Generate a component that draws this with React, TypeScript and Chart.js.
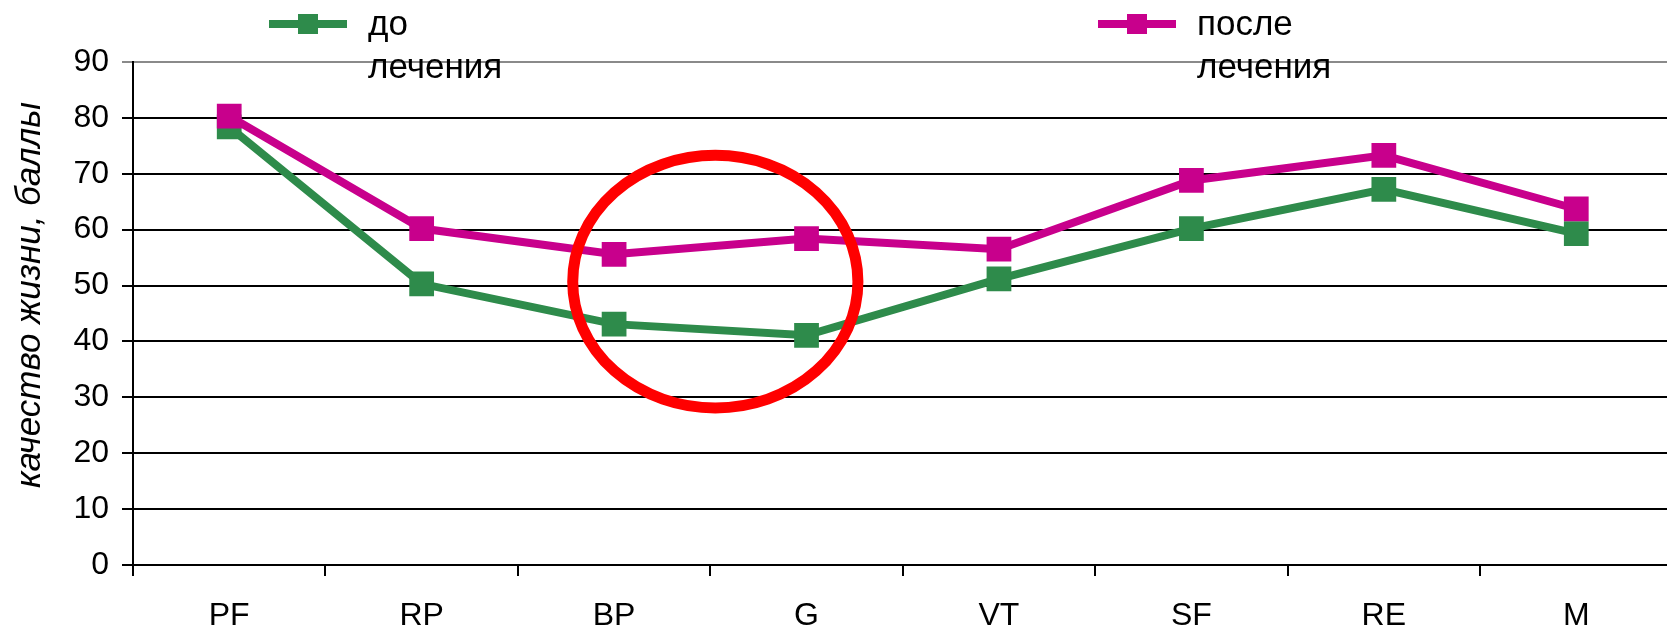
import React, { useEffect, useRef } from "react";
import { Chart, registerables } from "chart.js";

Chart.register(...registerables);

const categories = ["PF", "RP", "BP", "G", "VT", "SF", "RE", "M"];
const beforeValues = [78.4, 50.3, 43.1, 41.1, 51.2, 60.2, 67.2, 59.3];
const afterValues = [80.3, 60.2, 55.6, 58.4, 56.5, 68.8, 73.3, 63.7];
const beforeLabel = ["до", "лечения"];
const afterLabel = ["после", "лечения"];
const yTitle = "качество жизни, баллы";
const yMin = 0;
const yMax = 90;
const yStep = 10;

const GREEN = "#2E8B4B";
const MAGENTA = "#C8008C";
const RED = "#FF0000";
const FONT = "'Liberation Sans', Arial, sans-serif";

const overlayPlugin = {
  id: "overlay",
  afterDatasetsDraw(chart: any) {
    const { ctx, scales } = chart;
    const xs = scales.x;
    const ys = scales.y;
    // highlight ellipse around BP..G
    const step = xs.getPixelForValue(1) - xs.getPixelForValue(0);
    const cx = xs.getPixelForValue(2) + step * 0.526;
    const cy = ys.getPixelForValue(50.7);
    const rx = step * 0.741;
    const ry = Math.abs(ys.getPixelForValue(0) - ys.getPixelForValue(22.6));
    ctx.save();
    ctx.strokeStyle = RED;
    ctx.lineWidth = 11;
    ctx.beginPath();
    ctx.ellipse(cx, cy, rx, ry, 0, 0, Math.PI * 2);
    ctx.stroke();
    ctx.restore();
  },
  afterDraw(chart: any) {
    const { ctx } = chart;
    ctx.save();
    // y title
    ctx.fillStyle = "#000";
    ctx.font = `italic 35px ${FONT}`;
    ctx.textAlign = "center";
    ctx.textBaseline = "middle";
    ctx.translate(30, 295);
    ctx.rotate(-Math.PI / 2);
    ctx.fillText(yTitle, 0, 0);
    ctx.restore();

    // legend
    const items = [
      { cx: 308, color: GREEN, lines: beforeLabel },
      { cx: 1137, color: MAGENTA, lines: afterLabel },
    ];
    ctx.save();
    for (const it of items) {
      const y = 24;
      ctx.strokeStyle = it.color;
      ctx.lineWidth = 8;
      ctx.beginPath();
      ctx.moveTo(it.cx - 39, y);
      ctx.lineTo(it.cx + 39, y);
      ctx.stroke();
      ctx.fillStyle = it.color;
      ctx.fillRect(it.cx - 10, y - 10, 20, 20);
      ctx.fillStyle = "#000";
      ctx.font = `35px ${FONT}`;
      ctx.textAlign = "left";
      ctx.textBaseline = "middle";
      it.lines.forEach((t, i) => ctx.fillText(t, it.cx + 60, y + 1 + i * 43));
    }
    ctx.restore();
  },
};

export default function App() {
  const ref = useRef<HTMLCanvasElement | null>(null);
  useEffect(() => {
    if (!ref.current) return;
    const chart = new Chart(ref.current, {
      type: "line",
      data: {
        labels: categories,
        datasets: [
          {
            label: afterLabel.join(" "),
            data: afterValues,
            borderColor: MAGENTA,
            backgroundColor: MAGENTA,
            borderWidth: 8,
            pointStyle: "rect",
            pointRadius: 17.5,
            pointBorderWidth: 0,
            pointBackgroundColor: MAGENTA,
            tension: 0,
            order: 0,
          },
          {
            label: beforeLabel.join(" "),
            data: beforeValues,
            borderColor: GREEN,
            backgroundColor: GREEN,
            borderWidth: 8,
            pointStyle: "rect",
            pointRadius: 17.5,
            pointBorderWidth: 0,
            pointBackgroundColor: GREEN,
            tension: 0,
            order: 1,
          },
        ],
      },
      options: {
        responsive: false,
        animation: false,
        devicePixelRatio: 1,
        layout: { padding: { top: 62, right: 14, left: 0, bottom: 0 } },
        plugins: {
          legend: { display: false },
          tooltip: { enabled: false },
        },
        scales: {
          x: {
            offset: true,
            grid: {
              offset: true,
              drawOnChartArea: false,
              drawTicks: true,
              tickLength: 11,
              color: "#000",
              lineWidth: 2,
            },
            border: { display: true, color: "#000", width: 2 },
            ticks: {
              color: "#000",
              font: { family: FONT, size: 32 },
              padding: 21,
              maxRotation: 0,
              autoSkip: false,
            },
            afterFit(scale: any) {
              scale.height = 63;
            },
          },
          y: {
            min: yMin,
            max: yMax,
            grid: {
              color: (c: any) => (c.tick && c.tick.value === yMax ? "#8a8a8a" : "#000"),
              lineWidth: 2,
              drawTicks: true,
              tickLength: 11,
            },
            border: { display: true, color: "#000", width: 2 },
            ticks: {
              stepSize: yStep,
              color: "#000",
              font: { family: FONT, size: 32 },
              padding: 13,
            },
            afterFit(scale: any) {
              scale.width = 133;
            },
          },
        },
      },
      plugins: [overlayPlugin],
    });
    return () => chart.destroy();
  }, []);
  return (
    <div
      style={{
        position: "fixed",
        left: 0,
        top: 0,
        width: 1667,
        height: 628,
        overflow: "hidden",
        background: "#fff",
      }}
    >
      <canvas ref={ref} width={1690} height={628} style={{ display: "block" }} />
    </div>
  );
}
